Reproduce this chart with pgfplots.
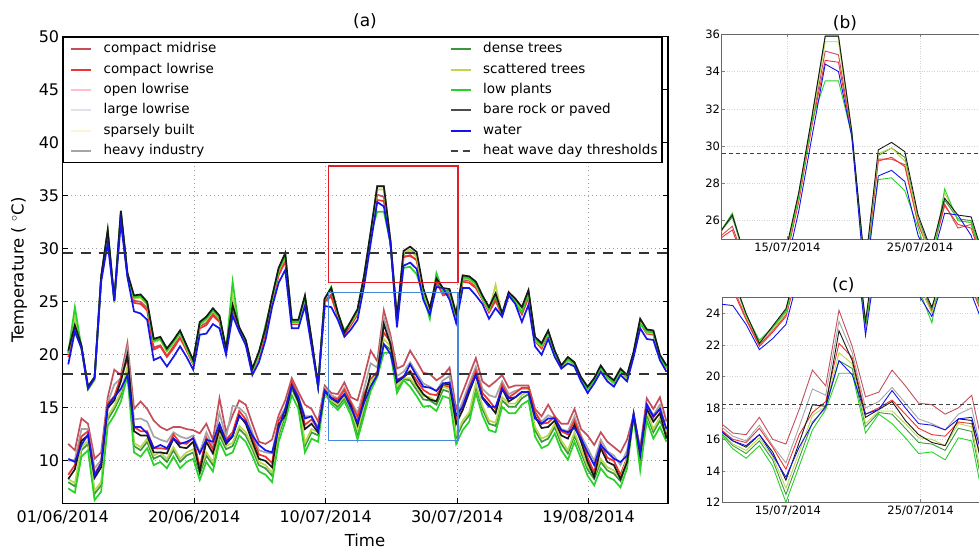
\documentclass[border=0pt]{standalone}
\usepackage{fontspec}
\setmainfont{DejaVu Sans}
\usepackage{pgfplots}
\usepackage{pgfplotstable}
\pgfplotsset{compat=1.18}

\definecolor{cmC}{RGB}{196,78,90}
\definecolor{clC}{RGB}{240,50,50}
\definecolor{olC}{RGB}{255,190,200}
\definecolor{llC}{RGB}{225,225,235}
\definecolor{sbC}{RGB}{250,245,215}
\definecolor{hiC}{RGB}{165,165,165}
\definecolor{dtC}{RGB}{60,150,60}
\definecolor{stC}{RGB}{185,215,80}
\definecolor{lpC}{RGB}{40,210,40}
\definecolor{brC}{RGB}{25,25,25}
\definecolor{waC}{RGB}{20,20,235}
\definecolor{boxR}{RGB}{225,30,40}
\definecolor{boxB}{RGB}{70,135,215}

\pgfplotstableread{
i Ucm Ucl Udt Ust Ulp Ubr Uwa Lcm Lbr Lwa Llp Lhi Lcl Ldt Lst
0 20.0 19.8 20.3 20.1 20.2 20.4 19.1 11.6 8.3 10.2 7.4 10.0 8.7 8.0 8.3
1 22.7 22.5 22.7 23.6 24.5 22.8 22.2 11.0 9.2 9.9 7.0 10.1 9.6 7.6 7.9
2 20.8 20.7 20.8 20.6 20.7 20.9 20.6 14.0 11.9 11.5 10.4 13.0 12.3 11.0 11.3
3 17.0 16.9 16.9 16.7 16.8 17.0 16.8 13.5 12.4 12.5 11.0 13.0 12.8 11.6 11.9
4 17.9 17.8 17.8 17.6 17.7 17.9 17.8 10.2 8.4 8.6 6.3 9.3 8.8 6.9 7.2
5 27.3 27.2 27.3 27.1 27.2 27.4 26.9 10.8 9.4 9.8 7.1 10.1 9.8 7.7 8.0
6 31.4 31.2 31.7 31.5 31.6 31.8 30.5 16.0 15.0 15.2 13.3 15.5 15.4 13.9 14.2
7 25.2 25.2 25.1 24.9 25.0 25.2 25.1 18.6 15.7 16.0 14.3 17.2 16.1 14.9 15.2
8 33.2 33.1 33.5 33.3 33.4 33.6 32.5 18.1 17.5 16.8 15.6 17.8 17.9 16.2 16.5
9 27.6 27.5 27.6 27.4 27.5 27.7 27.3 21.1 20.0 18.1 18.0 20.6 19.6 18.6 18.9
10 25.1 24.9 25.5 25.3 25.4 25.6 24.1 14.9 12.8 13.2 10.8 13.9 13.2 11.4 11.7
11 25.0 24.8 25.6 25.4 25.5 25.7 23.9 15.6 12.4 13.2 10.4 14.0 12.8 11.0 11.3
12 24.4 24.2 24.9 24.7 24.8 25.0 23.3 14.9 12.4 12.6 11.2 13.7 12.8 11.8 12.1
13 20.7 20.5 21.4 21.2 21.3 21.5 19.5 13.8 10.8 11.2 9.6 12.3 11.2 10.2 10.5
14 20.9 20.8 21.6 21.4 21.5 21.7 19.8 13.2 10.8 11.5 9.9 12.0 11.2 10.5 10.8
15 19.9 19.8 20.5 20.3 20.4 20.6 18.9 12.9 10.7 11.2 9.3 11.8 11.1 9.9 10.2
16 20.8 20.6 21.3 21.1 21.2 21.4 19.8 13.2 12.1 12.1 10.4 12.7 12.5 11.0 11.3
17 21.7 21.6 22.2 22.0 22.1 22.3 20.8 13.2 11.3 11.6 9.3 12.3 11.7 9.9 10.2
18 20.5 20.4 20.8 20.6 20.7 20.9 19.8 13.0 11.2 11.8 9.9 12.1 11.6 10.5 10.8
19 19.2 19.1 19.4 19.2 19.3 19.5 18.6 12.9 11.8 12.1 10.2 12.4 12.2 10.8 11.1
20 22.7 22.5 23.0 22.8 22.9 23.1 21.9 12.6 9.0 10.7 8.2 10.8 9.4 8.8 9.1
21 23.0 22.8 23.5 23.3 23.4 23.6 22.0 13.5 11.8 12.0 9.9 12.7 12.2 10.5 10.8
22 23.9 23.7 24.3 24.1 24.2 24.4 22.9 12.0 10.7 11.8 9.0 11.4 11.1 9.6 9.9
23 23.3 23.1 23.6 23.4 23.5 23.7 22.5 15.9 13.0 13.5 11.8 14.5 13.4 12.4 12.7
24 20.5 20.3 20.5 20.3 20.4 20.6 20.0 12.7 11.6 11.8 10.5 12.2 12.0 11.1 11.4
25 24.4 24.2 24.6 25.6 26.9 24.7 23.7 14.3 12.3 12.4 10.8 15.2 12.7 11.4 11.7
26 22.6 22.4 22.5 22.3 22.4 22.6 22.2 15.7 14.3 14.2 12.4 15.0 14.7 13.0 13.3
27 21.3 21.2 21.3 21.1 21.2 21.4 20.9 15.3 13.5 13.7 11.8 14.4 13.9 12.4 12.7
28 18.6 18.4 18.6 18.4 18.5 18.7 18.1 13.5 11.8 12.4 10.5 12.7 12.2 11.1 11.4
29 20.0 19.8 20.2 20.0 20.1 20.3 19.3 11.8 10.2 11.5 9.0 11.0 10.6 9.6 9.9
30 22.2 22.0 22.4 22.6 22.8 22.5 21.4 11.6 10.0 11.0 8.7 10.8 10.4 9.3 9.6
31 25.2 25.0 25.4 25.2 25.3 25.5 24.5 12.0 9.4 10.8 8.0 10.7 9.8 8.6 8.9
32 27.7 27.5 28.1 27.9 28.0 28.2 26.8 14.3 13.4 13.1 11.8 13.9 13.8 12.4 12.7
33 29.0 28.8 29.5 29.2 29.3 29.6 28.0 15.7 14.3 14.9 13.7 15.0 14.7 14.3 14.6
34 23.0 22.9 23.2 23.0 23.1 23.3 22.5 17.8 17.1 17.1 16.2 17.5 17.5 16.8 17.1
35 23.0 22.9 23.2 23.0 23.1 23.3 22.5 16.5 15.6 16.0 14.9 16.1 16.0 15.5 15.8
36 25.3 25.1 25.5 25.3 25.4 25.6 24.6 15.3 13.0 14.0 10.8 14.2 13.4 11.4 11.7
37 21.3 21.2 21.4 21.2 21.3 21.5 20.8 14.9 13.5 14.2 12.1 14.2 13.9 12.7 13.0
38 17.1 17.1 17.0 16.9 17.0 17.1 17.0 13.7 12.7 12.9 11.8 13.2 13.1 12.4 12.7
39 25.1 25.0 25.3 25.2 25.3 25.3 24.6 17.1 16.6 16.6 16.4 16.9 16.7 16.5 16.6
40 25.7 25.5 26.2 26.4 26.4 26.3 24.5 16.4 15.9 15.9 15.4 16.2 16.0 15.6 15.7
41 23.7 23.6 23.9 23.8 23.9 24.0 23.3 16.3 15.5 15.6 14.8 15.9 15.8 15.1 15.3
42 22.0 21.9 22.1 22.2 22.3 22.1 21.7 17.4 16.3 16.3 15.6 16.9 16.7 15.9 16.1
43 22.9 22.8 23.1 23.0 23.1 23.2 22.4 16.0 15.2 15.0 14.3 15.6 15.5 14.7 14.9
44 23.9 23.8 24.2 24.0 24.1 24.3 23.3 15.7 13.4 13.6 12.0 14.5 14.1 12.5 12.9
45 27.1 27.0 27.4 27.2 27.3 27.5 26.5 17.9 15.8 15.5 14.3 16.8 16.3 14.8 15.2
46 31.2 31.1 31.5 31.3 31.4 31.6 30.5 20.4 18.2 17.0 16.6 19.2 17.7 17.1 17.5
47 35.1 34.6 35.9 35.6 33.5 35.9 34.4 19.4 18.1 18.1 17.9 18.8 18.4 18.0 18.1
48 34.9 34.5 35.9 35.6 33.5 35.9 34.0 24.2 22.9 21.0 20.2 23.5 22.1 21.0 21.5
49 30.7 30.6 30.8 30.7 30.6 30.8 30.5 21.9 21.0 20.1 20.2 21.5 21.2 20.5 20.8
50 23.2 23.1 23.4 23.3 23.2 23.5 22.6 18.7 17.4 17.6 16.4 18.0 17.6 16.8 17.0
51 29.3 29.2 29.5 29.6 28.2 29.8 28.4 19.0 17.9 17.9 17.6 18.4 18.0 17.7 17.8
52 29.3 29.4 29.9 29.9 28.3 30.2 28.7 20.4 18.4 19.1 17.0 19.3 18.5 17.6 17.8
53 29.0 28.9 29.4 29.2 27.6 29.7 28.1 19.4 17.2 18.0 16.1 18.3 17.6 16.7 17.0
54 25.9 25.8 26.1 26.0 25.6 26.3 25.2 18.3 16.3 17.0 15.1 17.3 16.7 15.8 16.1
55 24.2 24.1 24.3 24.0 23.4 24.4 23.8 18.2 15.8 16.9 15.2 17.0 16.3 15.7 16.0
56 26.9 26.8 27.1 27.5 27.7 27.2 26.4 17.6 15.6 16.6 14.7 16.6 16.2 15.3 15.6
57 25.6 25.8 26.1 26.0 26.0 26.3 26.3 18.0 17.3 17.3 16.1 17.6 17.1 16.7 17.0
58 25.8 25.6 26.0 25.9 25.9 26.2 25.2 18.8 17.2 17.4 15.9 18.0 17.0 16.5 16.8
59 23.6 23.5 23.8 23.6 23.7 23.9 23.0 14.9 13.5 14.3 11.6 14.2 13.9 12.2 12.5
60 27.1 26.9 27.4 27.2 27.3 27.5 26.3 16.5 14.8 15.1 12.9 15.6 15.2 13.5 13.8
61 27.0 26.8 27.3 27.1 27.2 27.4 26.3 18.1 16.5 16.8 13.7 17.3 16.9 14.3 14.6
62 26.5 26.3 26.8 26.6 26.7 26.9 25.6 19.7 18.1 18.1 16.4 18.9 18.5 17.0 17.3
63 25.3 25.2 25.5 25.3 25.4 25.6 24.8 17.5 16.0 15.9 14.3 16.8 16.4 14.9 15.2
64 24.1 24.0 24.4 24.2 24.3 24.5 23.4 17.0 15.3 15.1 12.9 16.2 15.7 13.5 13.8
65 25.3 25.1 25.7 26.6 25.6 25.8 24.4 17.5 14.5 15.1 12.7 16.0 14.9 13.3 13.6
66 23.8 23.7 23.8 23.7 23.8 23.9 23.6 18.1 16.8 16.8 15.1 17.5 17.2 15.7 16.0
67 25.8 25.9 25.8 25.7 25.8 25.9 25.6 16.9 15.6 15.9 14.5 16.3 16.0 15.1 15.4
68 25.1 25.0 25.2 25.0 24.9 25.3 24.8 17.1 16.0 16.0 14.5 16.6 16.4 15.1 15.4
69 24.0 23.8 24.4 24.2 24.0 24.5 23.1 17.1 16.5 16.5 15.3 16.8 16.9 15.9 16.2
70 25.6 25.4 26.0 25.8 25.9 26.1 24.7 17.1 16.5 16.5 15.7 16.8 16.9 16.3 16.6
71 21.4 21.3 21.6 21.4 21.5 21.7 20.8 14.9 14.2 14.0 12.3 14.6 14.6 12.9 13.2
72 20.7 20.6 21.0 20.8 20.9 21.1 20.0 14.2 13.1 13.5 11.2 13.7 13.5 11.8 12.1
73 22.0 21.9 22.2 22.0 22.1 22.3 21.5 15.3 13.2 14.0 11.5 14.3 13.6 12.1 12.4
74 20.2 20.1 20.3 20.1 20.2 20.4 19.8 14.2 13.8 14.0 12.6 14.0 14.2 13.2 13.5
75 18.9 18.9 18.9 18.8 18.9 19.0 18.7 13.5 12.4 12.9 11.0 13.0 12.8 11.6 11.9
76 19.6 19.5 19.7 19.5 19.6 19.8 19.2 13.5 12.1 12.7 10.1 12.8 12.5 10.7 11.0
77 19.2 19.1 19.2 19.0 19.1 19.3 18.9 14.9 13.4 13.1 11.8 14.2 13.8 12.4 12.7
78 17.8 17.7 17.8 17.6 17.7 17.9 17.5 13.0 11.8 12.1 10.2 12.4 12.2 10.8 11.1
79 16.8 16.7 16.9 16.7 16.8 17.0 16.4 12.4 9.9 10.8 8.6 11.2 10.3 9.2 9.5
80 17.6 17.6 17.7 17.5 17.6 17.8 17.3 11.5 8.5 9.6 7.7 10.0 8.9 8.3 8.6
81 18.8 18.7 18.9 18.7 18.8 19.0 18.4 12.7 11.2 11.5 9.3 12.0 11.6 9.9 10.2
82 17.9 17.8 18.0 17.8 17.9 18.1 17.5 11.8 9.9 10.8 8.5 10.9 10.3 9.1 9.4
83 17.4 17.3 17.5 17.3 17.4 17.6 17.0 11.3 9.6 10.2 8.2 10.5 10.0 8.8 9.1
84 18.5 18.4 18.6 18.4 18.5 18.7 18.1 10.8 8.3 9.9 7.5 9.6 8.7 8.1 8.4
85 17.9 17.8 18.0 17.8 17.9 18.1 17.5 12.0 9.9 10.5 9.3 11.0 10.3 9.9 10.2
86 20.1 20.0 20.2 20.0 20.1 20.3 19.8 14.3 14.3 14.5 14.2 14.3 14.4 14.2 14.3
87 23.1 23.0 23.3 23.1 22.9 23.4 22.5 11.2 10.5 10.8 9.1 10.9 10.9 9.7 10.0
88 22.1 22.0 22.3 22.1 22.2 22.4 21.5 15.9 14.9 15.3 13.8 15.4 15.3 14.4 14.7
89 22.0 21.9 22.2 22.0 22.1 22.3 21.4 14.9 13.7 14.2 12.1 14.3 14.1 12.7 13.0
90 19.8 19.7 19.9 19.7 19.8 20.0 19.5 16.0 14.5 14.9 13.2 15.3 14.9 13.8 14.1
91 18.8 18.7 18.9 18.7 18.8 19.0 18.4 13.7 12.1 13.0 11.8 12.9 12.5 12.4 12.7
}\tdata

\newcommand{\allseries}[1]{%
\addplot[cmC,line width=#1,forget plot] table[x=i,y=Ucm]{\tdata};
\addplot[clC,line width=#1,forget plot] table[x=i,y=Ucl]{\tdata};
\addplot[dtC,line width=#1,forget plot] table[x=i,y=Udt]{\tdata};
\addplot[stC,line width=#1,forget plot] table[x=i,y=Ust]{\tdata};
\addplot[lpC,line width=#1,forget plot] table[x=i,y=Ulp]{\tdata};
\addplot[brC,line width=#1,forget plot] table[x=i,y=Ubr]{\tdata};
\addplot[waC,line width=#1,forget plot] table[x=i,y=Uwa]{\tdata};
\addplot[cmC,line width=#1,forget plot] table[x=i,y=Lcm]{\tdata};
\addplot[hiC,line width=#1,forget plot] table[x=i,y=Lhi]{\tdata};
\addplot[clC,line width=#1,forget plot] table[x=i,y=Lcl]{\tdata};
\addplot[dtC,line width=#1,forget plot] table[x=i,y=Ldt]{\tdata};
\addplot[stC,line width=#1,forget plot] table[x=i,y=Lst]{\tdata};
\addplot[lpC,line width=#1,forget plot] table[x=i,y=Llp]{\tdata};
\addplot[brC,line width=#1,forget plot] table[x=i,y=Lbr]{\tdata};
\addplot[waC,line width=#1,forget plot] table[x=i,y=Lwa]{\tdata};
}

\begin{document}
\begin{tikzpicture}
\useasboundingbox (0pt,0pt) rectangle (979pt,551pt);

\begin{scope}[overlay]
% ---------- panel (a)
\begin{axis}[
  at={(62.7pt,47.7pt)}, anchor=south west, scale only axis,
  width=605.3pt, height=466.6pt,
  xmin=-0.85, xmax=91.23, ymin=6, ymax=50,
  no markers,
  xtick={-0.85,19.15,39.15,59.15,79.15},
  xticklabels={01/06/2014,20/06/2014,10/07/2014,30/07/2014,19/08/2014},
  ytick={10,15,...,50},
  /pgf/number format/assume math mode=true,
  tick label style={font=\fontsize{16}{19}\selectfont},
  xticklabel style={yshift=-4pt},
  tick align=inside, major tick length=5pt,
  tick style={black, line width=0.8pt},
  axis line style={black, line width=1.3pt},
  grid=major,
  major grid style={gray!75, line width=0.8pt, dash pattern=on 1pt off 3.2pt},
  legend columns=6, transpose legend,
  legend cell align=left,
  legend image code/.code={\path (0pt,0pt); \draw[#1] (4.3pt,0pt) -- (24.3pt,0pt);},
  legend style={at={(0,1)}, anchor=north west, draw=black, line width=1.2pt,
    fill=white, inner xsep=2.5pt, inner ysep=3pt,
    font=\fontsize{13.5}{16}\selectfont, row sep=2.3pt,
    nodes={inner sep=2pt, text height=10.5pt, text depth=3.5pt},
    /tikz/every odd column/.append style={column sep=9.5pt},
    /tikz/every even column/.append style={column sep=227pt}},
]
\addlegendimage{cmC,line width=2pt}\addlegendentry{compact midrise}
\addlegendimage{clC,line width=2pt}\addlegendentry{compact lowrise}
\addlegendimage{olC,line width=2pt}\addlegendentry{open lowrise}
\addlegendimage{llC,line width=2pt}\addlegendentry{large lowrise}
\addlegendimage{sbC,line width=2pt}\addlegendentry{sparsely built}
\addlegendimage{hiC,line width=2pt}\addlegendentry{heavy industry}
\addlegendimage{dtC,line width=2pt}\addlegendentry{dense trees}
\addlegendimage{stC,line width=2pt}\addlegendentry{scattered trees}
\addlegendimage{lpC,line width=2pt}\addlegendentry{low plants}
\addlegendimage{black!70,line width=2pt}\addlegendentry{bare rock or paved}
\addlegendimage{waC,line width=2pt}\addlegendentry{water}
\addlegendimage{black!75,line width=2pt,dash pattern=on 7pt off 5pt}\addlegendentry{heat wave day thresholds}
\allseries{1.7pt}
\addplot[black!80, line width=2pt, dash pattern=on 10pt off 8pt, forget plot] coordinates {(-0.85,29.6) (91.23,29.6)};
\addplot[black!80, line width=2pt, dash pattern=on 10pt off 8pt, forget plot] coordinates {(-0.85,18.2) (91.23,18.2)};
\draw[boxR, line width=1.3pt] (axis cs:39.6,26.8) rectangle (axis cs:59.3,37.8);
\draw[boxB, line width=1.3pt] (axis cs:39.6,11.9) rectangle (axis cs:59.3,25.85);
\end{axis}

% ---------- panel (b)
\begin{axis}[
  at={(721.7pt,311.7pt)}, anchor=south west, scale only axis,
  width=265.4pt, height=205pt,
  xmin=39.2, xmax=59.2, ymin=25, ymax=36,
  no markers,
  xtick={44.15,54.15}, xticklabels={15/07/2014,25/07/2014},
  ytick={26,28,...,36},
  /pgf/number format/assume math mode=true,
  tick label style={font=\fontsize{11.5}{14}\selectfont},
  yticklabel style={inner xsep=1.5pt},
  tick align=inside, major tick length=3pt,
  tick style={gray, line width=0.6pt},
  axis line style={gray!80!black, line width=0.8pt},
  grid=major,
  major grid style={gray!35, line width=0.6pt, dash pattern=on 1pt off 1.5pt},
]
\allseries{0.9pt}
\addplot[black!75, line width=1.3pt, dash pattern=on 4pt off 3pt, forget plot] coordinates {(39.2,29.6) (59.2,29.6)};
\end{axis}

% ---------- panel (c)
\begin{axis}[
  at={(722.2pt,48.7pt)}, anchor=south west, scale only axis,
  width=265.4pt, height=204.6pt,
  xmin=39.2, xmax=59.2, ymin=12, ymax=25,
  no markers,
  xtick={44.15,54.15}, xticklabels={15/07/2014,25/07/2014},
  ytick={12,14,...,24},
  /pgf/number format/assume math mode=true,
  tick label style={font=\fontsize{11.5}{14}\selectfont},
  yticklabel style={inner xsep=1.5pt},
  tick align=inside, major tick length=3pt,
  tick style={gray, line width=0.6pt},
  axis line style={gray!80!black, line width=0.8pt},
  grid=major,
  major grid style={gray!35, line width=0.6pt, dash pattern=on 1pt off 1.5pt},
]
\allseries{0.9pt}
\addplot[black!75, line width=1.3pt, dash pattern=on 4pt off 3pt, forget plot] coordinates {(39.2,18.2) (59.2,18.2)};
\end{axis}
\end{scope}

% ---------- titles and labels
\node[font=\fontsize{17}{20}\selectfont] at (365pt,530.3pt) {(a)};
\node[font=\fontsize{17}{20}\selectfont] at (845pt,528.3pt) {(b)};
\node[font=\fontsize{17}{20}\selectfont] at (843.3pt,266pt) {(c)};
\node[font=\fontsize{16.5}{20}\selectfont] at (365pt,11pt) {Time};
\node[font=\fontsize{16.5}{20}\selectfont, rotate=90] at (19pt,281pt) {Temperature ( $^\circ$C)};
\end{tikzpicture}
\end{document}
